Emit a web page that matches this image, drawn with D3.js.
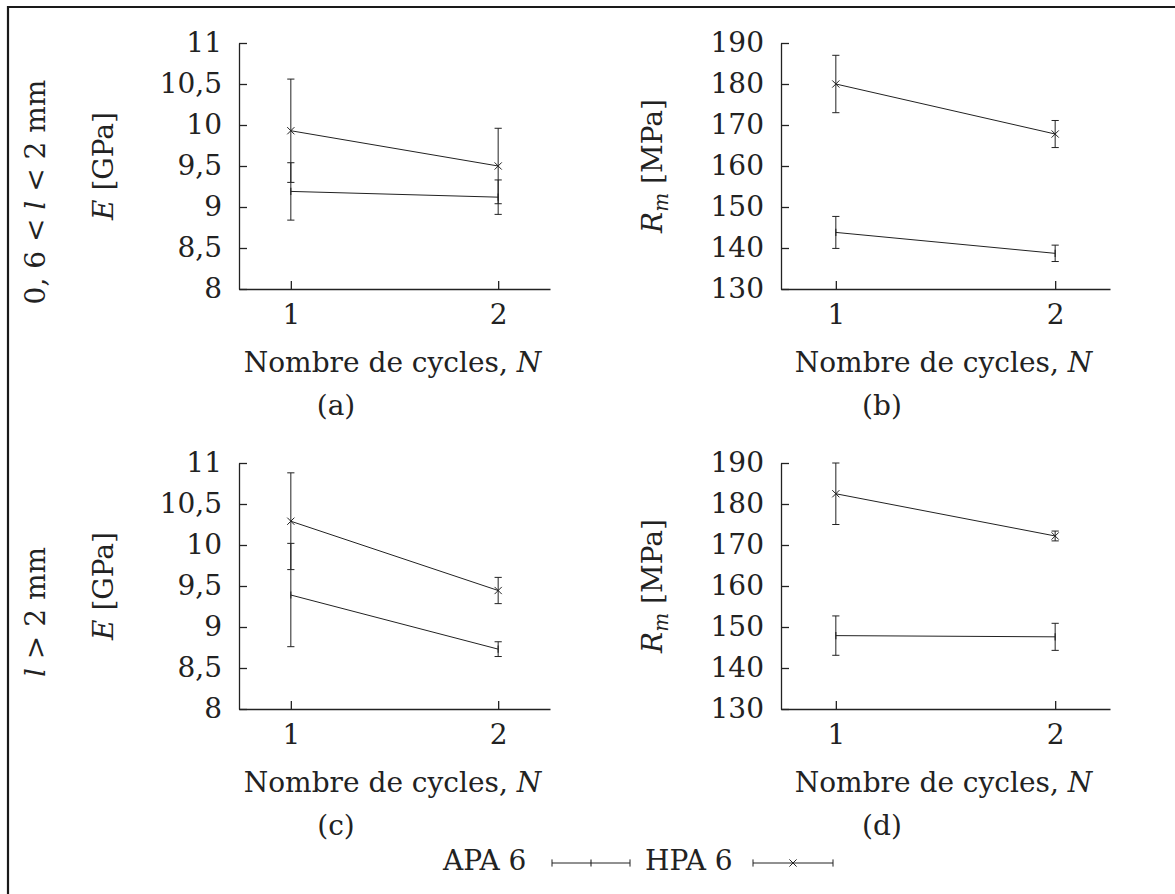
<!DOCTYPE html>
<html>
<head>
<meta charset="utf-8">
<script src="https://cdn.jsdelivr.net/npm/d3@7"></script>
<style>
  body { margin: 0; background: #fff; }
  text { font-family: "DejaVu Serif", serif; fill: #222; }
</style>
</head>
<body>
<div id="chart"></div>
<script>
// cycle numbers on the x axis
const cycles = [1, 2];
const seriesNames = ["APA 6", "HPA 6"];

// (a) E, 0,6 < l < 2 mm
const apaE_short = [9.19, 9.12];
const apaE_short_err = [0.35, 0.21];
const hpaE_short = [9.93, 9.50];
const hpaE_short_err = [0.63, 0.46];

// (b) Rm, 0,6 < l < 2 mm
const apaRm_short = [143.8, 138.7];
const apaRm_short_err = [3.9, 2.0];
const hpaRm_short = [180.0, 167.8];
const hpaRm_short_err = [7.0, 3.3];

// (c) E, l > 2 mm
const apaE_long = [9.39, 8.73];
const apaE_long_err = [0.63, 0.09];
const hpaE_long = [10.29, 9.445];
const hpaE_long_err = [0.59, 0.16];

// (d) Rm, l > 2 mm
const apaRm_long = [147.9, 147.6];
const apaRm_long_err = [4.8, 3.3];
const hpaRm_long = [182.5, 172.2];
const hpaRm_long_err = [7.5, 1.2];

// tick labels
const eTicks = [8, 8.5, 9, 9.5, 10, 10.5, 11];
const rmTicks = [130, 140, 150, 160, 170, 180, 190];
const subCaptions = ["(a)", "(b)", "(c)", "(d)"];

const W = 1175, H = 894;
const ink = "#222";
const fs = 28;

const svg = d3.select("#chart")
    .append("svg")
    .attr("width", W)
    .attr("height", H);

// frame (top and left edges)
svg.append("path")
    .attr("d", `M8,${H} V7 H${W}`)
    .attr("fill", "none")
    .attr("stroke", "#1a1a1a")
    .attr("stroke-width", 2.2);

const fmt = d => String(d).replace(".", ",");

// layout for the four panels
const panels = [
    { left: 239, right: 550, top: 43, bottom: 289, ticks: eTicks, kind: "E",
      apa: apaE_short, apaErr: apaE_short_err, hpa: hpaE_short, hpaErr: hpaE_short_err,
      labelX: 113, capX: 336 },
    { left: 781, right: 1110, top: 43, bottom: 289, ticks: rmTicks, kind: "Rm",
      apa: apaRm_short, apaErr: apaRm_short_err, hpa: hpaRm_short, hpaErr: hpaRm_short_err,
      labelX: 662, capX: 882 },
    { left: 239, right: 550, top: 463, bottom: 709, ticks: eTicks, kind: "E",
      apa: apaE_long, apaErr: apaE_long_err, hpa: hpaE_long, hpaErr: hpaE_long_err,
      labelX: 113, capX: 336 },
    { left: 781, right: 1110, top: 463, bottom: 709, ticks: rmTicks, kind: "Rm",
      apa: apaRm_long, apaErr: apaRm_long_err, hpa: hpaRm_long, hpaErr: hpaRm_long_err,
      labelX: 662, capX: 882 }
];

const markSize = 3.6;
const capSize = 3.6;

function drawMark(g, type, cx, cy) {
    if (type === "x") {
        g.append("path")
            .attr("d", `M${cx - markSize},${cy - markSize}L${cx + markSize},${cy + markSize}M${cx - markSize},${cy + markSize}L${cx + markSize},${cy - markSize}`)
            .attr("stroke", ink).attr("stroke-width", 1).attr("fill", "none");
    } else {
        g.append("path")
            .attr("d", `M${cx},${cy - markSize}V${cy + markSize}`)
            .attr("stroke", ink).attr("stroke-width", 1.1).attr("fill", "none");
    }
}

panels.forEach((p, i) => {
    const g = svg.append("g");

    const x = d3.scaleLinear().domain([0.75, 2.25]).range([p.left, p.right]);
    const y = d3.scaleLinear()
        .domain([p.ticks[0], p.ticks[p.ticks.length - 1]])
        .range([p.bottom, p.top]);

    // y axis, ticks inward
    const ya = g.append("g")
        .attr("transform", `translate(${p.left},0)`)
        .call(d3.axisLeft(y).tickValues(p.ticks).tickFormat(fmt)
            .tickSizeInner(-8).tickSizeOuter(0).tickPadding(17));
    // x axis, ticks inward
    const xa = g.append("g")
        .attr("transform", `translate(0,${p.bottom})`)
        .call(d3.axisBottom(x).tickValues(cycles).tickFormat(d3.format("d"))
            .tickSizeInner(-8).tickSizeOuter(0).tickPadding(15));

    [ya, xa].forEach(a => {
        a.selectAll("path, line").attr("stroke", ink).attr("stroke-width", 1.3);
        a.selectAll("text")
            .attr("font-size", fs)
            .attr("fill", ink);
    });

    // x label
    const xl = g.append("text")
        .attr("x", (p.left + p.right) / 2 - 2)
        .attr("y", p.bottom + 83)
        .attr("text-anchor", "middle")
        .attr("font-size", fs);
    xl.append("tspan").text("Nombre de cycles, ");
    xl.append("tspan").attr("font-style", "italic").text("N");

    // y label
    const cy = (p.top + p.bottom) / 2;
    const yl = g.append("text")
        .attr("transform", `translate(${p.labelX},${cy}) rotate(-90)`)
        .attr("text-anchor", "middle")
        .attr("font-size", fs);
    if (p.kind === "E") {
        yl.append("tspan").attr("font-style", "italic").text("E");
        yl.append("tspan").text(" [GPa]");
    } else {
        yl.append("tspan").attr("font-style", "italic").text("R");
        yl.append("tspan").attr("font-style", "italic").attr("font-size", 20).attr("dy", 6).text("m");
        yl.append("tspan").attr("dy", -6).text(" [MPa]");
    }

    // sub caption
    g.append("text")
        .attr("x", p.capX)
        .attr("y", p.bottom + 126)
        .attr("text-anchor", "middle")
        .attr("font-size", fs)
        .text(subCaptions[i]);

    // series: APA (| mark) and HPA (x mark)
    const series = [
        { vals: p.apa, err: p.apaErr, mark: "|" },
        { vals: p.hpa, err: p.hpaErr, mark: "x" }
    ];
    const line = d3.line().x((d, j) => x(cycles[j])).y(d => y(d));

    series.forEach(s => {
        g.append("path")
            .datum(s.vals)
            .attr("d", line)
            .attr("fill", "none")
            .attr("stroke", ink)
            .attr("stroke-width", 1);

        s.vals.forEach((v, j) => {
            const cx = x(cycles[j]);
            const y0 = y(v - s.err[j]), y1 = y(v + s.err[j]);
            g.append("path")
                .attr("d", `M${cx},${y0}V${y1}M${cx - capSize},${y0}H${cx + capSize}M${cx - capSize},${y1}H${cx + capSize}`)
                .attr("fill", "none")
                .attr("stroke", ink)
                .attr("stroke-width", 1);
            drawMark(g, s.mark, cx, y(v));
        });
    });
});

// row labels
const rowLabels = [
    { cy: 192, parts: [["0, 6 < ", false], ["l", true], [" < 2 mm", false]] },
    { cy: 612, parts: [["l", true], [" > 2 mm", false]] }
];
rowLabels.forEach(r => {
    const t = svg.append("text")
        .attr("transform", `translate(45,${r.cy}) rotate(-90)`)
        .attr("text-anchor", "middle")
        .attr("font-size", fs);
    r.parts.forEach(([s, it]) => {
        t.append("tspan").attr("font-style", it ? "italic" : "normal").text(s);
    });
});

// legend
const legend = svg.append("g");
const legendItems = [
    { name: seriesNames[0], tx: 443, x0: 552, x1: 630, mark: "|" },
    { name: seriesNames[1], tx: 645, x0: 753, x1: 833, mark: "x" }
];
const ly = 863;
legendItems.forEach(it => {
    legend.append("text")
        .attr("x", it.tx)
        .attr("y", 870)
        .attr("font-size", fs)
        .text(it.name);
    legend.append("path")
        .attr("d", `M${it.x0},${ly}H${it.x1}M${it.x0},${ly - capSize}V${ly + capSize}M${it.x1},${ly - capSize}V${ly + capSize}`)
        .attr("fill", "none")
        .attr("stroke", ink)
        .attr("stroke-width", 1);
    drawMark(legend, it.mark, (it.x0 + it.x1) / 2, ly);
});
</script>
</body>
</html>
